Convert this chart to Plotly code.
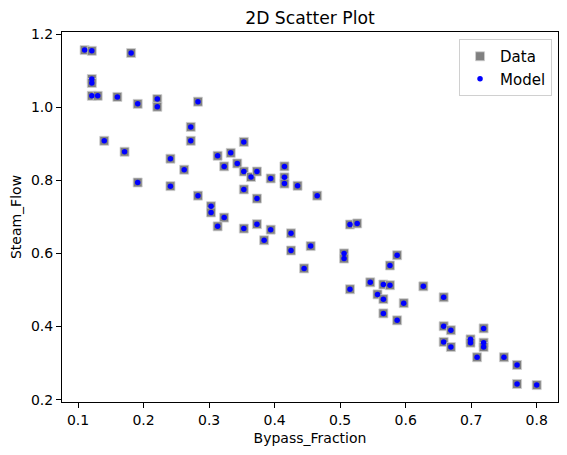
import plotly.graph_objects as go

# Bypass fraction vs steam flow, measured data and model prediction
bypass_fraction = [
    0.110, 0.121, 0.181, 0.121, 0.121, 0.121, 0.130, 0.160, 0.191, 0.221,
    0.221, 0.283, 0.140, 0.171, 0.191, 0.241, 0.241, 0.262, 0.283, 0.272,
    0.272, 0.353, 0.313, 0.333, 0.323, 0.343, 0.353, 0.364, 0.373, 0.394,
    0.415, 0.415, 0.415, 0.435, 0.465, 0.353, 0.373, 0.303, 0.303, 0.323,
    0.313, 0.353, 0.373, 0.394, 0.384, 0.425, 0.425, 0.455, 0.445, 0.506,
    0.506, 0.515, 0.526, 0.515, 0.546, 0.566, 0.576, 0.557, 0.566, 0.566,
    0.576, 0.587, 0.597, 0.587, 0.627, 0.658, 0.658, 0.669, 0.658, 0.669,
    0.699, 0.699, 0.719, 0.719, 0.719, 0.709, 0.750, 0.770, 0.770, 0.800,
]
steam_flow = [
    1.156, 1.154, 1.148, 1.077, 1.066, 1.031, 1.031, 1.028, 1.009, 1.022,
    1.001, 1.015, 0.908, 0.878, 0.794, 0.859, 0.784, 0.829, 0.758, 0.946,
    0.908, 0.905, 0.867, 0.875, 0.838, 0.846, 0.824, 0.809, 0.824, 0.805,
    0.838, 0.808, 0.791, 0.785, 0.758, 0.775, 0.750, 0.729, 0.712, 0.698,
    0.674, 0.668, 0.680, 0.665, 0.636, 0.655, 0.608, 0.620, 0.559, 0.600,
    0.586, 0.679, 0.682, 0.502, 0.521, 0.515, 0.513, 0.488, 0.475, 0.436,
    0.567, 0.595, 0.464, 0.417, 0.510, 0.480, 0.401, 0.390, 0.358, 0.344,
    0.365, 0.356, 0.395, 0.356, 0.344, 0.316, 0.316, 0.295, 0.243, 0.240,
]
model_flow = steam_flow

fig = go.Figure([
    go.Scatter(
        x=bypass_fraction,
        y=steam_flow,
        mode='markers',
        name='Data',
        marker=dict(symbol='square', size=9, color='#808080',
                    line=dict(width=0.8, color='#cfcfcf')),
    ),
    go.Scatter(
        x=bypass_fraction,
        y=model_flow,
        mode='markers',
        name='Model',
        marker=dict(symbol='circle', size=5.5, color='blue'),
    ),
])

axis_style = dict(
    showgrid=False,
    zeroline=False,
    showline=True,
    linecolor='black',
    linewidth=1,
    mirror=True,
    ticks='outside',
    ticklen=5,
    tickwidth=1,
    tickcolor='black',
    tickfont=dict(size=14, color='black'),
    automargin=False,
)

# page body adds ~8px around the plot, so the figure is a bit smaller
fig.update_layout(
    width=559,
    height=447,
    template='simple_white',
    font=dict(family='DejaVu Sans', color='black'),
    title=dict(
        text='2D Scatter Plot',
        x=0.5,
        xref='paper',
        xanchor='center',
        y=1 - 10 / 447,
        yref='container',
        yanchor='middle',
        font=dict(size=17.2, color='black'),
    ),
    margin=dict(l=54, r=9, t=24, b=53),
    plot_bgcolor='white',
    paper_bgcolor='white',
    xaxis=dict(
        axis_style,
        range=[0.0755, 0.8325],
        tickvals=[0.1, 0.2, 0.3, 0.4, 0.5, 0.6, 0.7, 0.8],
        ticktext=['0.1', '0.2', '0.3', '0.4', '0.5', '0.6', '0.7', '0.8'],
        title=dict(text='Bypass_Fraction', font=dict(size=14), standoff=6),
    ),
    yaxis=dict(
        axis_style,
        range=[0.1937, 1.2055],
        tickvals=[0.2, 0.4, 0.6, 0.8, 1.0, 1.2],
        ticktext=['0.2', '0.4', '0.6', '0.8', '1.0', '1.2'],
        title=dict(text='Steam_Flow', font=dict(size=14), standoff=6),
    ),
    legend=dict(
        x=0.988,
        y=0.981,
        xanchor='right',
        yanchor='top',
        bordercolor='#d0d0d0',
        borderwidth=1,
        bgcolor='rgba(255,255,255,0.8)',
        font=dict(size=15),
        itemwidth=30,
    ),
    showlegend=True,
)

fig.write_html("out.html")
